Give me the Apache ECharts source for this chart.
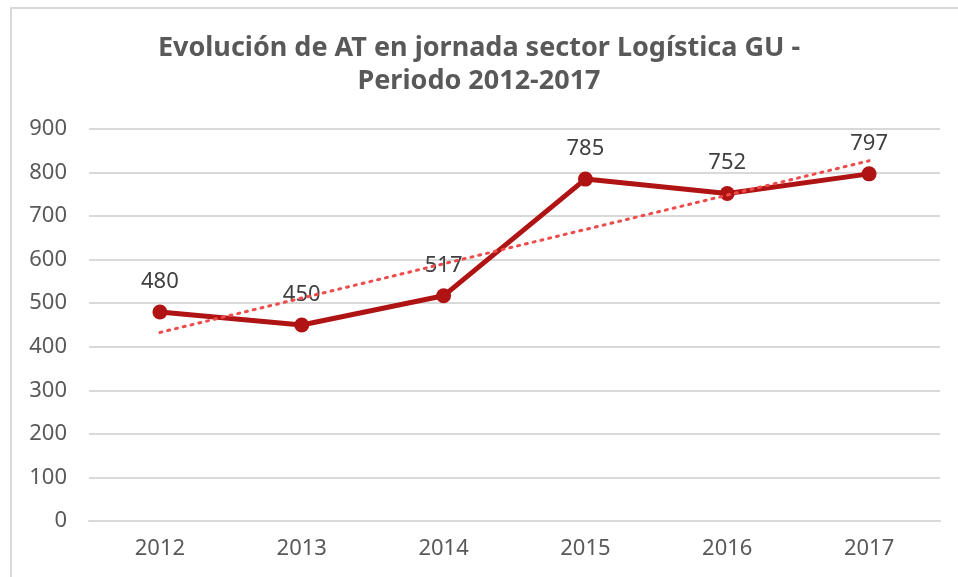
<!DOCTYPE html>
<html>
<head>
<meta charset="utf-8">
<script src="https://cdn.jsdelivr.net/npm/echarts@6/dist/echarts.min.js"></script>
<style>
  html, body { margin: 0; padding: 0; background: #fff; }
  #frame { position: absolute; left: 10px; top: 7px; width: 1000px; height: 600px; border: 2px solid #d9d9d9; box-sizing: border-box; }
  #chart { position: absolute; left: 0; top: 0; width: 958px; height: 577px; }
</style>
</head>
<body>
<div id="frame"></div>
<div id="chart"></div>
<script>
// datos
const years = ["2012", "2013", "2014", "2015", "2016", "2017"];
const accidentes = [480, 450, 517, 785, 752, 797];
// línea de tendencia (solo extremos)
const tendencia = [433, null, null, null, null, 827];
const yTicks = [0, 900, 100]; // min, max, intervalo

const chart = echarts.init(document.getElementById("chart"), null, { renderer: "canvas" });

const font = "'Noto Sans', 'DejaVu Sans', sans-serif";

const option = {
  backgroundColor: "transparent",
  title: {
    text: "Evolución de AT en jornada sector Logística GU -\nPeriodo 2012-2017",
    left: "center",
    top: 27,
    textStyle: {
      fontFamily: font,
      fontSize: 27,
      fontWeight: "bold",
      color: "#595959",
      lineHeight: 33,
    },
  },
  grid: {
    left: 89,
    right: 18,
    top: 129,
    bottom: 56,
  },
  xAxis: {
    type: "category",
    data: years,
    boundaryGap: true,
    axisLine: { show: true, lineStyle: { color: "#d9d9d9", width: 2 } },
    axisTick: { show: false },
    axisLabel: {
      color: "#595959",
      fontFamily: font,
      fontSize: 22,
      margin: 17,
    },
  },
  yAxis: {
    type: "value",
    min: yTicks[0],
    max: yTicks[1],
    interval: yTicks[2],
    axisLine: { show: false },
    axisTick: { show: false },
    axisLabel: {
      color: "#595959",
      fontFamily: font,
      fontSize: 22,
      margin: 22,
    },
    splitLine: { lineStyle: { color: "#d9d9d9", width: 2 } },
  },
  series: [
    {
      name: "Tendencia",
      type: "line",
      data: tendencia,
      connectNulls: true,
      showSymbol: false,
      symbol: "none",
      silent: true,
      z: 3,
      lineStyle: { color: "#ef4b4b", width: 3, type: [2, 6], cap: "round" },
    },
    {
      name: "AT en jornada",
      type: "line",
      data: accidentes,
      symbol: "circle",
      symbolSize: 15,
      z: 2,
      itemStyle: { color: "#b01313" },
      lineStyle: { color: "#b01313", width: 5 },
      label: {
        show: true,
        position: "top",
        distance: 12,
        color: "#404040",
        fontFamily: font,
        fontSize: 22,
      },
    },
  ],
};

chart.setOption(option);
</script>
</body>
</html>
